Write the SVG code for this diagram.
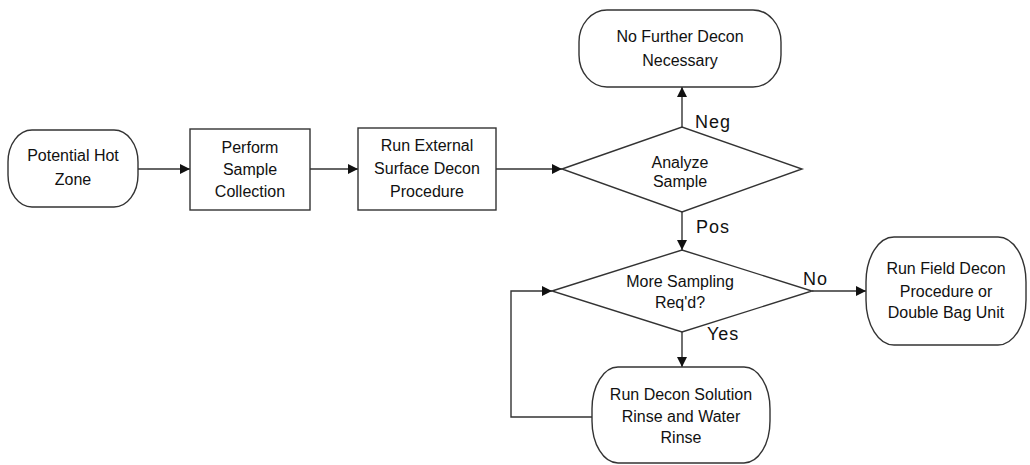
<svg xmlns="http://www.w3.org/2000/svg" width="1030" height="465" viewBox="0 0 1030 465">
<style>
.s{fill:#fff;stroke:#333;stroke-width:1.4}
.t{font-family:"Liberation Sans",Arial,sans-serif;font-size:16px;fill:#111;text-anchor:middle}
.l{font-family:"Liberation Sans",Arial,sans-serif;font-size:18px;fill:#111;letter-spacing:1px}
.c{fill:none;stroke:#333;stroke-width:1.4}
</style>
<defs>
<marker id="a" viewBox="0 0 10 10" refX="10" refY="5" markerWidth="10" markerHeight="10" markerUnits="userSpaceOnUse" orient="auto">
<path d="M0,0L10,5L0,10z" fill="#111"/>
</marker>
</defs>
<rect width="1030" height="465" fill="#fff"/>
<g id="connectors">
<path class="c" d="M138,169H190" marker-end="url(#a)"/>
<path class="c" d="M310,169H358" marker-end="url(#a)"/>
<path class="c" d="M496,169H562" marker-end="url(#a)"/>
<path class="c" d="M682,127V87" marker-end="url(#a)"/>
<path class="c" d="M682,212V250" marker-end="url(#a)"/>
<path class="c" d="M812,291H866" marker-end="url(#a)"/>
<path class="c" d="M682,332V367" marker-end="url(#a)"/>
<path class="c" d="M592,417H511V291H552" marker-end="url(#a)"/>
<text class="l" x="695" y="128">Neg</text>
<text class="l" x="696" y="233">Pos</text>
<text class="l" x="803" y="285">No</text>
<text class="l" x="707" y="340">Yes</text>
</g>
<g id="potential-hot-zone">
<rect class="s" x="8" y="130" width="130" height="77" rx="24" ry="32"/>
<text class="t" x="73" y="161">Potential Hot</text>
<text class="t" x="73" y="185">Zone</text>
</g>
<g id="perform-sample-collection">
<rect class="s" x="190" y="129" width="120" height="81"/>
<text class="t" x="250" y="153">Perform</text>
<text class="t" x="250" y="175">Sample</text>
<text class="t" x="250" y="197">Collection</text>
</g>
<g id="run-external">
<rect class="s" x="358" y="128" width="138" height="82"/>
<text class="t" x="427" y="151">Run External</text>
<text class="t" x="427" y="174">Surface Decon</text>
<text class="t" x="427" y="197">Procedure</text>
</g>
<g id="analyze-sample">
<polygon class="s" points="562,169 682,127 802,169 682,212"/>
<text class="t" x="680" y="168">Analyze</text>
<text class="t" x="680" y="187">Sample</text>
</g>
<g id="no-further-decon">
<rect class="s" x="579" y="10" width="202" height="77" rx="28" ry="32"/>
<text class="t" x="680" y="42">No Further Decon</text>
<text class="t" x="680" y="66">Necessary</text>
</g>
<g id="more-sampling">
<polygon class="s" points="552,291 682,250 812,291 682,332"/>
<text class="t" x="680" y="287">More Sampling</text>
<text class="t" x="680" y="308">Req'd?</text>
</g>
<g id="run-field-decon">
<rect class="s" x="866" y="237" width="160" height="108" rx="28" ry="45"/>
<text class="t" x="946" y="274">Run Field Decon</text>
<text class="t" x="946" y="297">Procedure or</text>
<text class="t" x="946" y="318">Double Bag Unit</text>
</g>
<g id="run-decon-solution">
<rect class="s" x="592" y="367" width="178" height="96" rx="26" ry="42"/>
<text class="t" x="681" y="400">Run Decon Solution</text>
<text class="t" x="681" y="422">Rinse and Water</text>
<text class="t" x="681" y="443">Rinse</text>
</g>
</svg>
